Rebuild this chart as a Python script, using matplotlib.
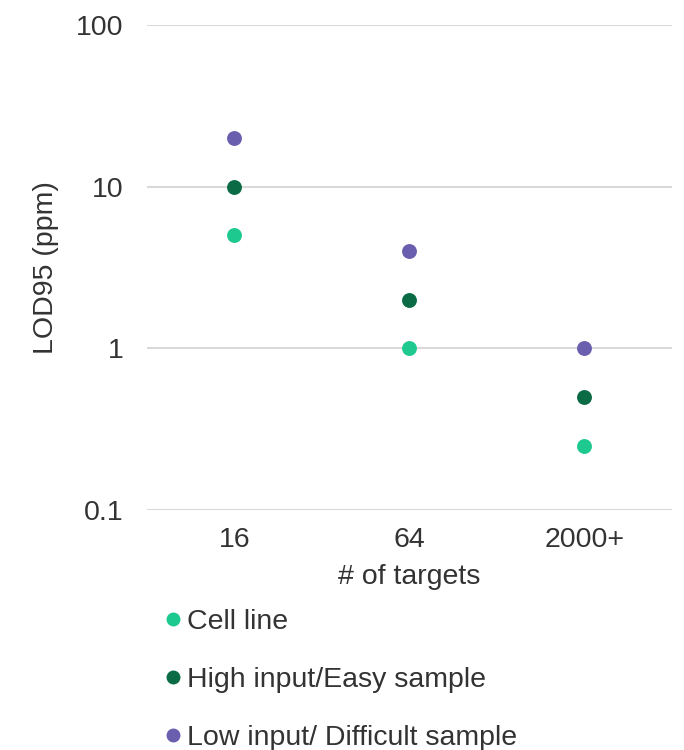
import matplotlib
matplotlib.use("Agg")
import matplotlib.pyplot as plt
from matplotlib.lines import Line2D

plt.rcParams['font.family'] = ['Liberation Sans', 'DejaVu Sans']

categories = ["16", "64", "2000+"]
series_names = ["Cell line", "High input/Easy sample", "Low input/ Difficult sample"]
cell_line = [5, 1, 0.25]
high_input = [10, 2, 0.5]
low_input = [20, 4, 1]
colors = ["#1DC98F", "#0B6B45", "#6A5FAE"]
yticks = [0.1, 1, 10, 100]
ytick_labels = ["0.1", "1", "10", "100"]

FS = 20.5
TXT = '#333333'

fig = plt.figure(figsize=(6.84, 7.5), dpi=100)
ax = fig.add_axes([0.215, 0.32, 0.767, 0.6467])

x = list(range(len(categories)))
for vals, c in zip([cell_line, high_input, low_input], colors):
    ax.scatter(x, vals, s=115, color=c, zorder=3, linewidths=0)

ax.set_yscale('log')
ax.set_ylim(0.1, 100)
ax.set_xlim(-0.5, 2.5)
ax.set_yticks(yticks)
ax.set_yticklabels(ytick_labels)
ax.minorticks_off()
ax.set_xticks(x)
ax.set_xticklabels(categories)
ax.tick_params(axis='both', length=0, labelsize=FS, colors=TXT)
ax.tick_params(axis='y', pad=17)
ax.tick_params(axis='x', pad=12.5)
ax.grid(axis='y', color='#D9D9D9', linewidth=1.5, zorder=0)
for s in ax.spines.values():
    s.set_visible(False)

ax.set_xlabel("# of targets", fontsize=FS, color=TXT, labelpad=8)
ax.set_ylabel("LOD95 (ppm)", fontsize=FS, color=TXT, labelpad=12)

handles = [Line2D([], [], marker='o', linestyle='', color=c, markersize=9) for c in colors]
fig.legend(handles, series_names, loc='upper left', bbox_to_anchor=(0.215, 0.207),
           frameon=False, fontsize=FS, handletextpad=0.12, labelspacing=1.13,
           handlelength=0.8, labelcolor=TXT, borderpad=0)

fig.savefig("out.png", dpi=100)
